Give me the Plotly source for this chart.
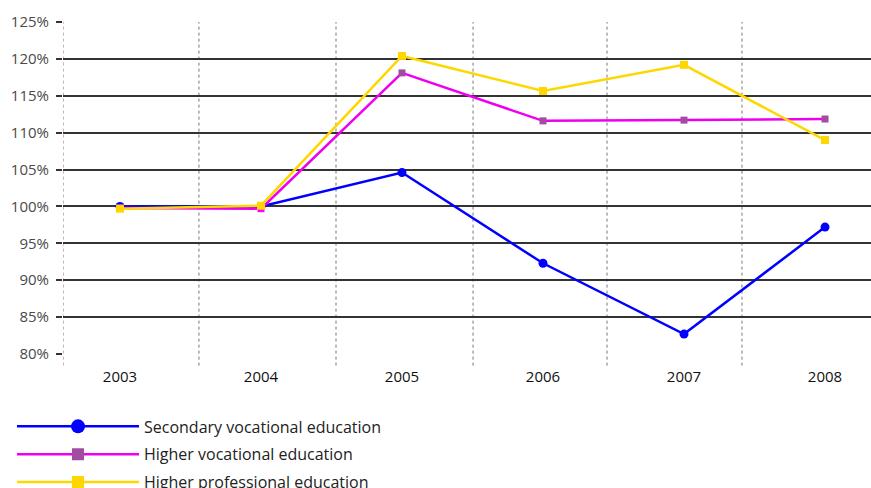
import plotly.graph_objects as go

# Index values (2003 = 100%) by type of education
years = [2003, 2004, 2005, 2006, 2007, 2008]
secondary_vocational = [100.0, 100.0, 104.6, 92.3, 82.7, 97.2]
higher_vocational = [99.8, 99.7, 118.1, 111.6, 111.7, 111.85]
higher_professional = [99.7, 100.1, 120.4, 115.65, 119.2, 109.0]

y_ticks = [80, 85, 90, 95, 100, 105, 110, 115, 120, 125]
y_tick_text = [f"{v}%" for v in y_ticks]

FONT = "Open Sans, Noto Sans, sans-serif"

series = [
    dict(name="Secondary vocational education", values=secondary_vocational,
         line="#0000FF", symbol="circle", size=9, legend_size=14,
         colors="#0000FF", legend_color="#0000FF"),
    dict(name="Higher vocational education", values=higher_vocational,
         line="#EE00EE", symbol="square", size=7, legend_size=12,
         colors=["#FF00FF", "#FF00FF", "#A04CA0", "#A04CA0", "#A04CA0", "#A04CA0"],
         legend_color="#A04CA0"),
    dict(name="Higher professional education", values=higher_professional,
         line="#FFD700", symbol="square", size=8, legend_size=12,
         colors="#FFD700", legend_color="#FFD700"),
]

fig = go.Figure()

for i, s in enumerate(series):
    fig.add_trace(go.Scatter(
        x=years, y=s["values"], name=s["name"], mode="lines+markers",
        line=dict(color=s["line"], width=2.5),
        marker=dict(symbol=s["symbol"], size=s["size"], color=s["colors"]),
        showlegend=False, legendgroup=f"g{i}",
    ))

# legend entries with the larger key symbols
for i, s in enumerate(series):
    fig.add_trace(go.Scatter(
        x=[None], y=[None], name=s["name"], mode="lines+markers",
        line=dict(color=s["line"], width=2.5),
        marker=dict(symbol=s["symbol"], size=s["legend_size"], color=s["legend_color"]),
        showlegend=True, legendgroup=f"g{i}",
    ))

# dotted separators between the year columns
for xv in [2002.596, 2003.560, 2004.532, 2005.504, 2006.454, 2007.411]:
    fig.add_shape(type="line", xref="x", yref="paper", x0=xv, x1=xv, y0=-0.035, y1=1,
                  line=dict(color="#777777", width=1, dash="dot"), layer="below")

fig.update_layout(
    width=871, height=488,
    margin=dict(l=63, r=0, t=22, b=134, autoexpand=False),
    paper_bgcolor="white", plot_bgcolor="white",
    font=dict(family=FONT, size=15, color="#222222"),
    showlegend=True,
    legend=dict(
        x=-0.0631, xanchor="left", y=-0.167, yanchor="top",
        font=dict(size=16, color="#222222"),
        itemwidth=122, bgcolor="rgba(0,0,0,0)",
        traceorder="grouped", tracegroupgap=4,
    ),
    xaxis=dict(
        range=[2002.596, 2008.326],
        tickvals=years, ticktext=[str(y) for y in years],
        showgrid=False, zeroline=False, showline=False,
        ticks="", ticklabelstandoff=12,
        tickfont=dict(size=15, color="#111111"),
    ),
    yaxis=dict(
        range=[80, 125], tickvals=y_ticks, ticktext=y_tick_text,
        showgrid=True, gridcolor="#333333", gridwidth=1.5,
        zeroline=False, showline=False,
        ticks="outside", ticklen=6, tickcolor="#333333", tickwidth=1.5,
        ticklabelstandoff=4,
        tickfont=dict(size=15, color="#4a4a4a"),
    ),
)

fig.write_html("out.html")
